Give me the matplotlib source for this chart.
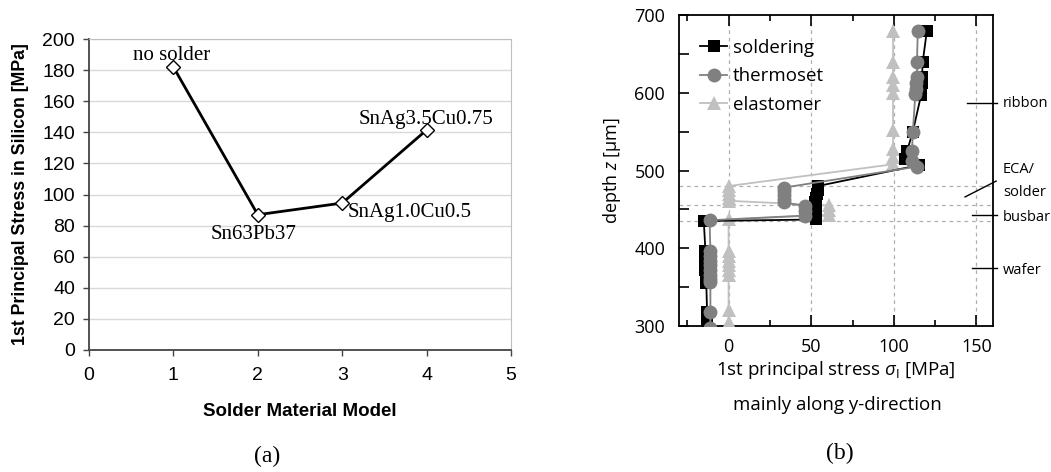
import matplotlib
matplotlib.use("Agg")
import matplotlib.pyplot as plt
from matplotlib.ticker import MultipleLocator

# ---------------- data: panel (a) ----------------
model_ids = [1, 2, 3, 4]
stress_si = [182, 87, 94.5, 141.5]
model_names = ["no solder", "Sn63Pb37", "SnAg1.0Cu0.5", "SnAg3.5Cu0.75"]

# ---------------- data: panel (b) ----------------
sold_depth = [680, 640, 620, 612, 604, 597, 550, 525, 515, 507,
              480, 475, 470, 465, 460,
              455, 450, 445, 440, 437,
              435, 396, 390, 384, 378, 372, 366, 360, 355, 318, 305]
sold_stress = [120, 117.5, 117, 117, 116.5, 116.5, 111.5, 108, 106.5, 115.5,
               54, 54, 53.5, 53, 52.5,
               53, 53, 53, 53, 53,
               -15, -14, -14, -14, -14, -14, -13.5, -13.5, -13.5, -13, -13]

therm_depth = [680, 640, 620, 612, 605, 598, 550, 525, 512, 505,
               478, 473, 468, 463, 459,
               454, 448, 442,
               436, 396, 390, 384, 378, 372, 366, 360, 357, 318, 298]
therm_stress = [114.5, 114, 114, 113.5, 113.5, 113, 111.5, 111, 111, 114,
                33.5, 33.5, 33.5, 33.5, 33.5,
                46.5, 46, 46,
                -11.5, -11, -11, -11, -11, -11, -11, -11, -11, -11, -11]

elast_depth = [680, 640, 620, 610, 600, 552, 528, 517, 508,
               480, 475, 470, 465, 461,
               455, 449, 443,
               437, 396, 390, 384, 378, 372, 366, 320, 305]
elast_stress = [99.5, 99.5, 99.5, 99.5, 99.5, 99.5, 99.5, 99.5, 99.5,
                0, 0, 0, 0, 0,
                61, 61, 61,
                0, 0, 0, 0, 0, 0, 0, 0, 0]

layer_bounds = [480, 455, 435]
layer_names = ["ribbon", "ECA/", "solder", "busbar", "wafer"]

SERIF = ["Liberation Serif", "DejaVu Serif"]
SANS = ["Liberation Sans", "DejaVu Sans"]
OPEN = ["Open Sans", "DejaVu Sans"]

plt.rcParams["mathtext.fontset"] = "custom"
plt.rcParams["mathtext.rm"] = "Open Sans"
plt.rcParams["mathtext.it"] = "Open Sans:italic"

fig = plt.figure(figsize=(10.51, 4.72), dpi=100)

# ---------------- panel (a) ----------------
axa = fig.add_axes([89 / 1051, 1 - 350 / 472, 422 / 1051, 311 / 472])
axa.set_xlim(0, 5)
axa.set_ylim(0, 200)
axa.yaxis.set_major_locator(MultipleLocator(20))
axa.xaxis.set_major_locator(MultipleLocator(1))
axa.grid(axis="y", color="#d9d9d9", linewidth=1.0)
axa.set_axisbelow(True)
for s in ["top", "right"]:
    axa.spines[s].set_color("#bfbfbf")
for s in ["left", "bottom"]:
    axa.spines[s].set_color("#444444")
    axa.spines[s].set_linewidth(1.3)
axa.tick_params(direction="out", length=4, width=1.0, color="#444444",
                labelsize=14, pad=6)
axa.tick_params(axis="x", pad=8)
for lab in axa.get_xticklabels() + axa.get_yticklabels():
    lab.set_family(SANS)

axa.plot(model_ids, stress_si, color="black", linewidth=2.0, marker="D",
         markersize=7, markerfacecolor="white", markeredgecolor="black",
         markeredgewidth=1.0, zorder=3)

label_pos = [(0.98, 189.5, "center"), (1.955, 74, "center"),
             (3.07, 88.5, "left"), (3.99, 148.5, "center")]
for name, (lx, ly, ha) in zip(model_names, label_pos):
    axa.text(lx, ly, name, family=SERIF, fontsize=15, ha=ha, va="center",
             zorder=4)

axa.set_ylabel("1st Principal Stress in Silicon [MPa]", family=SANS,
               fontsize=12.8, fontweight="bold", va="center")
axa.yaxis.set_label_coords(-0.162, 0.5)
axa.set_xlabel("Solder Material Model", family=SANS, fontsize=13.5,
               fontweight="bold", va="center")
axa.xaxis.set_label_coords(0.5, -0.199)

# ---------------- panel (b) ----------------
axb = fig.add_axes([679 / 1051, 1 - 326 / 472, 314 / 1051, 311 / 472])
axb.set_xlim(-30, 160)
axb.set_ylim(300, 700)
axb.xaxis.set_major_locator(MultipleLocator(50))
axb.xaxis.set_minor_locator(MultipleLocator(25))
axb.yaxis.set_major_locator(MultipleLocator(100))
axb.yaxis.set_minor_locator(MultipleLocator(50))
axb.grid(axis="x", which="major", color="#b0b0b0", linestyle=(0, (3, 3)),
         linewidth=0.9)
axb.set_axisbelow(True)
for b in layer_bounds:
    axb.axhline(b, color="#b0b0b0", linestyle=(0, (3, 3)), linewidth=0.9,
                zorder=1)
for s in axb.spines.values():
    s.set_linewidth(1.3)
axb.tick_params(which="both", direction="in", top=True, right=False,
                width=1.2, labelsize=13, pad=9)
axb.tick_params(axis="x", which="major", length=8)
axb.tick_params(axis="x", which="minor", length=4)
axb.tick_params(axis="y", which="both", length=7)
axb.tick_params(axis="y", pad=10)
for lab in axb.get_xticklabels() + axb.get_yticklabels():
    lab.set_family(OPEN)

axb.plot(elast_stress, elast_depth, color="#c0c0c0", linewidth=1.3,
         marker="^", markersize=10, markeredgewidth=0, label="elastomer",
         zorder=3)
axb.plot(therm_stress, therm_depth, color="#808080", linewidth=1.3,
         marker="o", markersize=10, markeredgewidth=0, label="thermoset",
         zorder=4)
axb.plot(sold_stress, sold_depth, color="black", linewidth=1.3,
         marker="s", markersize=8.5, markeredgewidth=0, label="soldering",
         zorder=3.5)

h, l = axb.get_legend_handles_labels()
order = [2, 1, 0]
leg = axb.legend([h[i] for i in order], [l[i] for i in order],
                 loc="upper left", bbox_to_anchor=(0.025, 0.965),
                 frameon=False, prop={"family": OPEN, "size": 13.5},
                 handlelength=1.45, handletextpad=0.3, labelspacing=0.55,
                 borderaxespad=0.3, markerscale=1.0)

axb.set_xlabel(r"1st principal stress $\sigma_{\mathrm{I}}$ [MPa]",
               family=OPEN, fontsize=13.5, va="center")
axb.xaxis.set_label_coords(0.5, -0.141)
axb.text(0.503, -0.254, "mainly along y-direction", transform=axb.transAxes,
         family=OPEN, fontsize=13.5, ha="center", va="center")
axb.set_ylabel(r"depth $z$ [µm]", family=OPEN, fontsize=13, va="center")
axb.yaxis.set_label_coords(-0.213, 0.5)

# layer annotations on the right
tr = axb.transAxes
kw = dict(transform=tr, clip_on=False, color="black", linewidth=1.0)
axb.plot([0.917, 1.013], [0.717, 0.717], **kw)
axb.plot([0.911, 1.01], [0.415, 0.466], **kw)
axb.plot([0.933, 1.013], [0.357, 0.357], **kw)
axb.plot([0.933, 1.013], [0.186, 0.186], **kw)
ann_y = [0.717, 0.502, 0.428, 0.350, 0.180]
for name, yy in zip(layer_names, ann_y):
    axb.text(1.032, yy, name, transform=tr, family=OPEN, fontsize=10.5,
             ha="left", va="center")

# captions
fig.text(0.254, 0.032, "(a)", family=SERIF, fontsize=17, ha="center",
         va="center")
fig.text(0.799, 0.040, "(b)", family=SERIF, fontsize=17, ha="center",
         va="center")

fig.savefig("out.png", dpi=100)
